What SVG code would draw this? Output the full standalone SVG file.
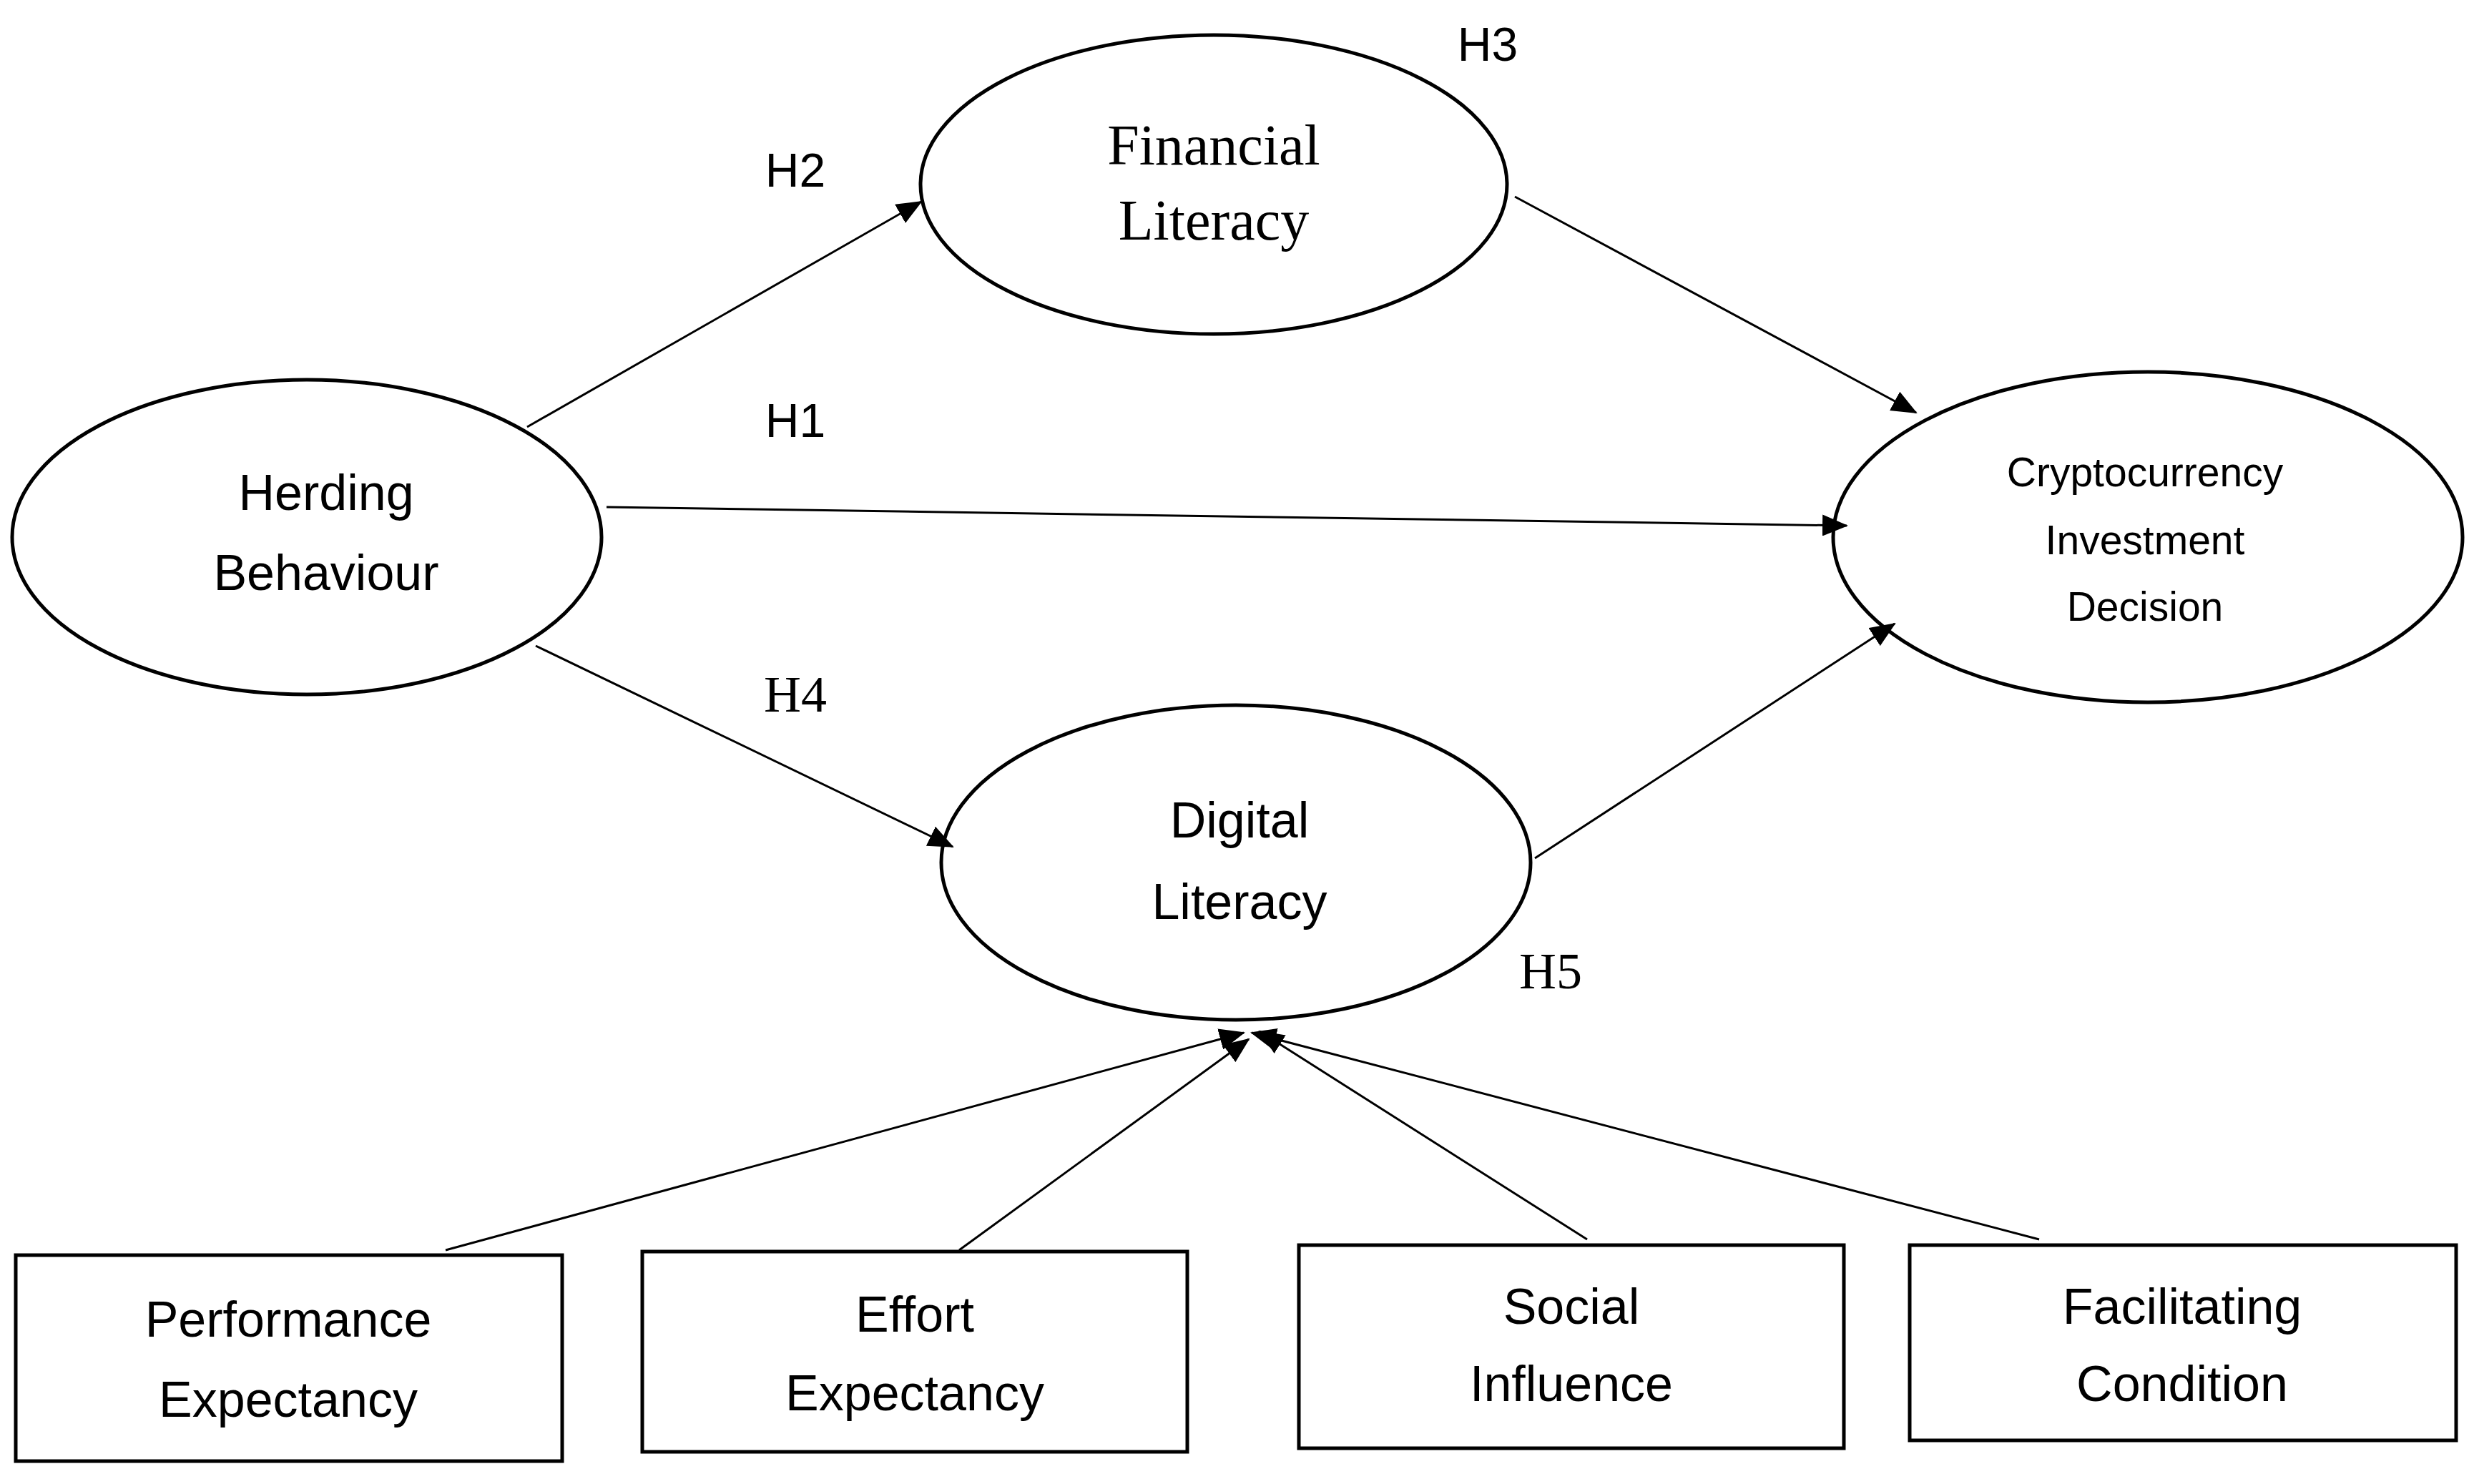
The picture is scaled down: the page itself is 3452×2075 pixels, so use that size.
<svg xmlns="http://www.w3.org/2000/svg" width="3452" height="2075" viewBox="0 0 3452 2075">
<style>
.n{fill:#fff;stroke:#000;stroke-width:5}
.c line{stroke:#000;stroke-width:3}
.s{font-family:"Liberation Sans",Arial,sans-serif;fill:#000;text-anchor:middle;dominant-baseline:central}
.r{font-family:"Liberation Serif","Times New Roman",serif;fill:#000;text-anchor:middle;dominant-baseline:central}
</style>
<defs><marker id="a" markerUnits="userSpaceOnUse" markerWidth="36" markerHeight="30" refX="34" refY="15" orient="auto"><path d="M0,0L36,15L0,30z" fill="#000"/></marker></defs>
<rect width="3452" height="2075" fill="#fff"/>
<g id="financial"><ellipse class="n" cx="1697" cy="258" rx="410" ry="209"/><text class="r" x="1697" y="203" font-size="80">Financial</text><text class="r" x="1697" y="308" font-size="80">Literacy</text></g>
<g id="herding"><ellipse class="n" cx="429" cy="751" rx="412" ry="220"/><text class="s" x="456" y="689" font-size="70">Herding</text><text class="s" x="456" y="801" font-size="70">Behaviour</text></g>
<g id="crypto"><ellipse class="n" cx="3003" cy="751" rx="440" ry="231"/><text class="s" x="2999" y="660" font-size="57">Cryptocurrency</text><text class="s" x="2999" y="755" font-size="57">Investment</text><text class="s" x="2999" y="848" font-size="57">Decision</text></g>
<g id="digital"><ellipse class="n" cx="1728" cy="1206" rx="412" ry="220"/><text class="s" x="1733" y="1147" font-size="70">Digital</text><text class="s" x="1733" y="1261" font-size="70">Literacy</text></g>
<g id="performance"><rect class="n" x="22" y="1755" width="764" height="288"/><text class="s" x="403" y="1845" font-size="70">Performance</text><text class="s" x="403" y="1957" font-size="70">Expectancy</text></g>
<g id="effort"><rect class="n" x="898" y="1750" width="762" height="280"/><text class="s" x="1279" y="1838" font-size="70">Effort</text><text class="s" x="1279" y="1948" font-size="70">Expectancy</text></g>
<g id="social"><rect class="n" x="1816" y="1741" width="762" height="284"/><text class="s" x="2197" y="1827" font-size="70">Social</text><text class="s" x="2197" y="1935" font-size="70">Influence</text></g>
<g id="facilitating"><rect class="n" x="2670" y="1741" width="764" height="273"/><text class="s" x="3051" y="1827" font-size="70">Facilitating</text><text class="s" x="3051" y="1935" font-size="70">Condition</text></g>
<g id="connectors" class="c" marker-end="url(#a)">
<line x1="737" y1="597" x2="1288" y2="282" marker-end="url(#a)"/>
<line x1="2118" y1="275" x2="2679" y2="577" marker-end="url(#a)"/>
<line x1="848" y1="709" x2="2582" y2="735" marker-end="url(#a)"/>
<line x1="749" y1="903" x2="1332" y2="1184" marker-end="url(#a)"/>
<line x1="2146" y1="1200" x2="2649" y2="872" marker-end="url(#a)"/>
<line x1="623" y1="1748" x2="1739" y2="1444" marker-end="url(#a)"/>
<line x1="1341" y1="1748" x2="1746" y2="1453" marker-end="url(#a)"/>
<line x1="2219" y1="1733" x2="1761" y2="1442" marker-end="url(#a)"/>
<line x1="2851" y1="1733" x2="1750" y2="1444" marker-end="url(#a)"/>
</g>
<g id="labels">
<text class="s" x="2080" y="62" font-size="66">H3</text>
<text class="s" x="1112" y="238" font-size="66">H2</text>
<text class="s" x="1112" y="588" font-size="66">H1</text>
<text class="r" x="1112" y="971" font-size="72">H4</text>
<text class="r" x="2168" y="1358" font-size="72">H5</text>
</g>
</svg>
